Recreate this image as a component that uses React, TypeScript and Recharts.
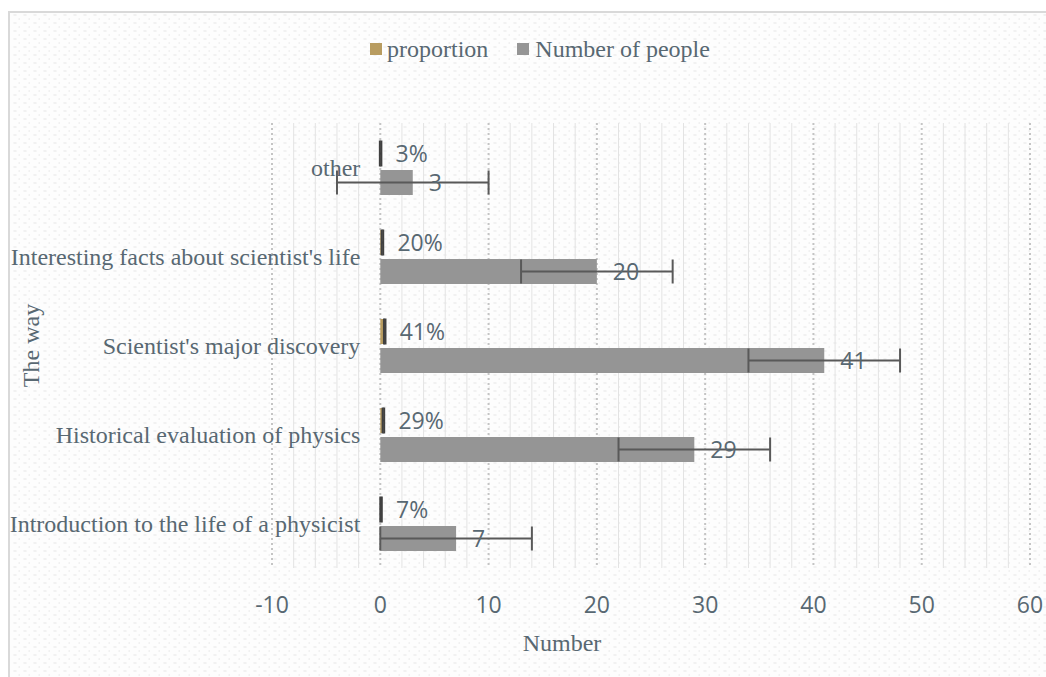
import React from 'react';
import { BarChart, Bar, XAxis, YAxis, CartesianGrid, ErrorBar, LabelList } from 'recharts';

const categories = [
  'other',
  "Interesting facts about scientist's life",
  "Scientist's major discovery",
  'Historical evaluation of physics',
  'Introduction to the life of a physicist',
];
const proportionValues = [0.03, 0.2, 0.41, 0.29, 0.07];
const peopleValues = [3, 20, 41, 29, 7];
const peopleErrors = [7, 7, 7, 7, 7];
const proportionErrors = [0.07, 0.07, 0.07, 0.07, 0.07];
const xTicks = [-10, 0, 10, 20, 30, 40, 50, 60];
const minorGrid = [-8, -6, -4, -2, 2, 4, 6, 8, 12, 14, 16, 18, 22, 24, 26, 28, 32, 34, 36, 38, 42, 44, 46, 48, 52, 54, 56, 58];

const data = categories.map((c, i) => ({
  way: c,
  proportion: proportionValues[i],
  people: peopleValues[i],
  peopleErr: peopleErrors[i],
  propErr: proportionErrors[i],
}));

const W = 1036;
const H = 650;
const MARGIN = { top: 110, right: 16, bottom: 35, left: 0 };
const Y_AXIS_W = 262;
const X_MIN = -10;
const X_MAX = 60;
const PLOT_W = W - MARGIN.left - MARGIN.right - Y_AXIS_W;
const ZERO_X = MARGIN.left + Y_AXIS_W + ((0 - X_MIN) / (X_MAX - X_MIN)) * PLOT_W;

const TEXT = '#586872';
const SERIF = '"Liberation Serif", "Times New Roman", serif';
const SANS = '"Open Sans", "Noto Sans", sans-serif';

const toX = (args: any, v: number) => {
  const xa = args && args.xAxis;
  if (xa && typeof xa.scale === 'function') return xa.scale(v);
  const off = (args && args.offset) || { left: MARGIN.left + Y_AXIS_W, width: PLOT_W };
  return off.left + ((v - X_MIN) / (X_MAX - X_MIN)) * off.width;
};

const YTick = (props: any) => {
  const { y, payload } = props;
  return (
    <text x={ZERO_X - 20} y={y} textAnchor="end" dominantBaseline="central" fill={TEXT} fontFamily={SERIF} fontSize={24}>
      {payload.value}
    </text>
  );
};

const XTick = (props: any) => {
  const { x, y, payload } = props;
  return (
    <text x={x} y={y} textAnchor="middle" dominantBaseline="central" fill={TEXT} fontFamily={SANS} fontSize={23}>
      {payload.value}
    </text>
  );
};

const XTitle = (props: any) => {
  const vb = props.viewBox || {};
  return (
    <text x={vb.x + vb.width / 2 - 89} y={630} textAnchor="middle" dominantBaseline="central" fill={TEXT} fontFamily={SERIF} fontSize={24}>
      Number
    </text>
  );
};

const YTitle = (props: any) => {
  const vb = props.viewBox || {};
  const cy = vb.y + vb.height / 2;
  return (
    <text x={21} y={cy} transform={`rotate(-90, 21, ${cy})`} textAnchor="middle" dominantBaseline="central" fill={TEXT} fontFamily={SERIF} fontSize={24}>
      The way
    </text>
  );
};

export default function App() {
  return (
    <div style={{ width: 1046, height: 677, overflow: 'hidden', background: '#ffffff' }}>
      <style>{'html,body{margin:0;padding:0;overflow:hidden;}'}</style>
      <div
        style={{
          position: 'relative',
          marginTop: 11,
          marginLeft: 8,
          width: 1036,
          height: 664,
          overflow: 'hidden',
          borderLeft: '2px solid #d9d9d9',
          borderTop: '2px solid #d9d9d9',
          backgroundColor: '#fdfdfd',
          backgroundImage:
            'radial-gradient(ellipse 2.6px 1px at 5px 2px, #f0f0f0 0%, #f0f0f0 50%, rgba(253,253,253,0) 100%), radial-gradient(ellipse 2.6px 1px at 10px 6px, #f0f0f0 0%, #f0f0f0 50%, rgba(253,253,253,0) 100%)',
          backgroundSize: '10px 8px',
        }}
      >
        <div
          style={{
            position: 'absolute',
            left: 360,
            top: 22,
            display: 'flex',
            alignItems: 'center',
            fontFamily: SERIF,
            fontSize: 24,
            lineHeight: '28px',
            color: TEXT,
            whiteSpace: 'nowrap',
          }}
        >
          <span style={{ width: 12, height: 12, background: '#b89c60', display: 'inline-block', marginRight: 5 }} />
          <span>proportion</span>
          <span style={{ width: 12, height: 12, background: '#959595', display: 'inline-block', marginLeft: 29, marginRight: 6 }} />
          <span>Number of people</span>
        </div>
        <BarChart
          width={W}
          height={H}
          data={data}
          layout="vertical"
          margin={MARGIN}
          barSize={25}
          barGap={4}
        >
          <CartesianGrid
            horizontal={false}
            vertical
            stroke="#e3e3e3"
            strokeWidth={1}
            verticalCoordinatesGenerator={(args: any) => minorGrid.map((v) => toX(args, v))}
          />
          <CartesianGrid
            horizontal={false}
            vertical
            stroke="#c4c4c4"
            strokeWidth={2}
            strokeDasharray="2 3"
            verticalCoordinatesGenerator={(args: any) => xTicks.map((v) => toX(args, v))}
          />
          <XAxis
            type="number"
            domain={[X_MIN, X_MAX]}
            ticks={xTicks}
            interval={0}
            axisLine={false}
            tickLine={false}
            tickSize={0}
            tickMargin={36}
            height={60}
            tick={<XTick />}
            label={<XTitle />}
          />
          <YAxis
            type="category"
            dataKey="way"
            width={Y_AXIS_W}
            axisLine={false}
            tickLine={false}
            tick={<YTick />}
            label={<YTitle />}
          />
          <Bar dataKey="proportion" fill="#b89c60" isAnimationActive={false}>
            <ErrorBar dataKey="propErr" direction="x" width={13} stroke="#404040" strokeWidth={2} />
            <LabelList
              dataKey="proportion"
              position="right"
              offset={15}
              formatter={(v: any) => `${Math.round(Number(v) * 100)}%`}
              style={{ fill: TEXT, fontFamily: SANS, fontSize: 23 }}
            />
          </Bar>
          <Bar dataKey="people" fill="#959595" isAnimationActive={false}>
            <ErrorBar dataKey="peopleErr" direction="x" width={12} stroke="#595959" strokeWidth={2} />
            <LabelList
              dataKey="people"
              position="right"
              offset={16}
              style={{ fill: TEXT, fontFamily: SANS, fontSize: 23 }}
            />
          </Bar>
        </BarChart>
      </div>
    </div>
  );
}
